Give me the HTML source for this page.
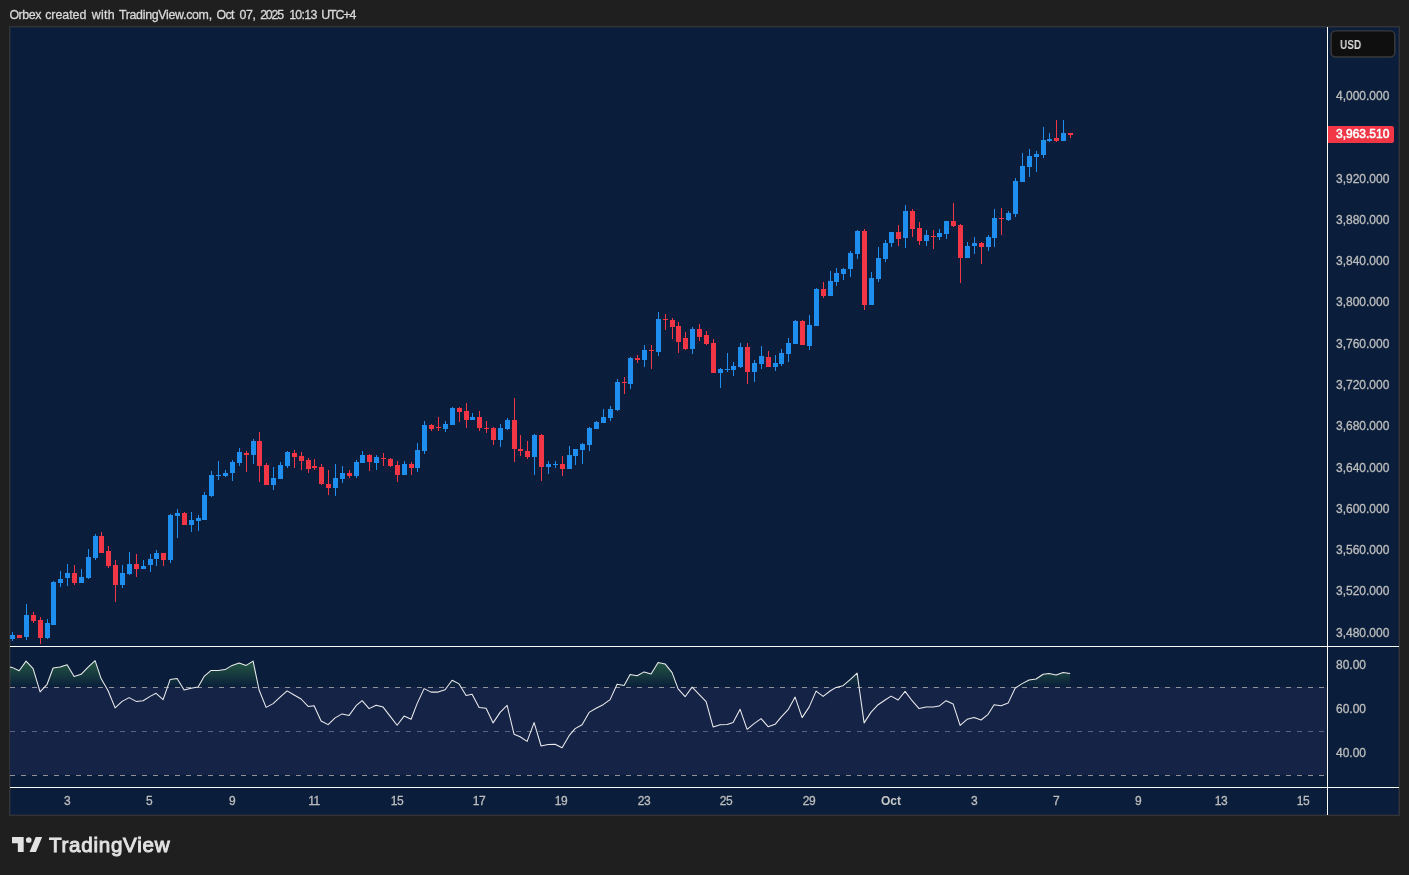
<!DOCTYPE html>
<html><head><meta charset="utf-8"><title>Chart</title>
<style>
html,body{margin:0;padding:0}
body{width:1409px;height:875px;background:#1f1f1f;position:relative;overflow:hidden;font-family:"Liberation Sans",sans-serif}
#hdr{position:absolute;left:0;top:7px;width:400px;height:16px;line-height:16px;font-size:12.4px;color:#d8d8d8;-webkit-text-stroke:0.3px #d8d8d8;white-space:nowrap}
#hdr span{position:absolute;top:0}
#box{position:absolute;left:9px;top:26px;width:1389px;height:788px;border:1px solid #323437;background:#0a1e3b;box-shadow:inset 0 0 0 1px #1c2638}
svg{position:absolute;left:0;top:0}
#hdr,.pl,.tl,#usd,#cur,#logo{will-change:transform}
.pl{position:absolute;left:1336px;height:16px;line-height:16px;font-size:12px;color:#bdbdbd;-webkit-text-stroke:0.3px #bdbdbd;white-space:nowrap}
.tl{position:absolute;top:792.6px;width:60px;text-align:center;height:16px;line-height:16px;font-size:12px;letter-spacing:-0.5px;color:#bdbdbd;-webkit-text-stroke:0.3px #bdbdbd}
.tl.b{font-weight:bold;color:#c8c8c8;-webkit-text-stroke:0;letter-spacing:0}
#usd{position:absolute;left:1339.6px;top:36.5px;height:16px;line-height:16px;color:#dcdcdc;font-size:12.8px;font-weight:bold;transform:scaleX(0.785);transform-origin:0 0;white-space:nowrap}
#cur{position:absolute;left:1328px;top:126px;width:66px;height:17px;background:#f23645;border-radius:0 2px 2px 0;color:#fff;font-size:12px;-webkit-text-stroke:0.55px #fff;line-height:17px}
#cur span{margin-left:8px}
#logo{position:absolute;left:48.6px;top:833px;font-size:20.6px;font-weight:normal;color:#e2e2e2;-webkit-text-stroke:0.95px #e2e2e2;line-height:24px;white-space:nowrap;letter-spacing:0.72px}
</style></head><body>
<div id="hdr"><span style="left:9.4px;letter-spacing:-0.45px">Orbex</span><span style="left:45.15px;letter-spacing:-0.025px">created</span><span style="left:91.65px;letter-spacing:0.317px">with</span><span style="left:118.9px;letter-spacing:-0.307px">TradingView.com,</span><span style="left:216.4px;letter-spacing:-0.575px">Oct</span><span style="left:239.4px;letter-spacing:-0.375px">07,</span><span style="left:260.15px;letter-spacing:-1.167px">2025</span><span style="left:289.2px;letter-spacing:-0.725px">10:13</span><span style="left:321.15px;letter-spacing:-1.1px">UTC+4</span></div>
<div id="box"></div>
<svg width="1409" height="875" viewBox="0 0 1409 875">
<defs>
<linearGradient id="gg" gradientUnits="userSpaceOnUse" x1="0" y1="621.5" x2="0" y2="687.5"><stop offset="0" stop-color="#4caf50" stop-opacity="1"/><stop offset="1" stop-color="#4caf50" stop-opacity="0"/></linearGradient>
<clipPath id="ob"><rect x="10" y="647" width="1317" height="40.5"/></clipPath>
</defs>
<g shape-rendering="crispEdges">
<rect x="10" y="687" width="1317" height="88" fill="#152347"/>
<path fill="#1e8fee" d="M10 635h5v4h-5zM12 632h1v3h-1zM12 639h1v2h-1zM24 615h5v22h-5zM26 604h1v11h-1zM26 637h1v3h-1zM45 623h5v15h-5zM47 619h1v4h-1zM47 638h1v1h-1zM51 582h5v43h-5zM53 581h1v1h-1zM58 579h5v4h-5zM60 571h1v8h-1zM60 583h1v4h-1zM65 573h5v5h-5zM67 564h1v9h-1zM67 578h1v8h-1zM79 577h5v6h-5zM81 569h1v8h-1zM86 557h5v21h-5zM88 549h1v8h-1zM88 578h1v1h-1zM93 536h5v22h-5zM95 534h1v2h-1zM95 558h1v2h-1zM120 573h5v12h-5zM122 565h1v8h-1zM122 585h1v3h-1zM127 564h5v10h-5zM129 552h1v12h-1zM129 574h1v1h-1zM141 566h5v3h-5zM143 560h1v6h-1zM148 559h5v6h-5zM150 554h1v5h-1zM150 565h1v7h-1zM154 553h5v6h-5zM156 550h1v3h-1zM156 559h1v7h-1zM168 515h5v45h-5zM170 514h1v1h-1zM170 560h1v3h-1zM175 513h5v3h-5zM177 509h1v4h-1zM177 516h1v22h-1zM189 520h5v5h-5zM191 512h1v8h-1zM191 525h1v7h-1zM196 518h5v3h-5zM198 515h1v3h-1zM198 521h1v10h-1zM202 495h5v25h-5zM204 492h1v3h-1zM209 475h5v21h-5zM211 471h1v4h-1zM211 496h1v1h-1zM216 475h5v1h-5zM218 461h1v14h-1zM218 476h1v4h-1zM223 473h5v3h-5zM225 470h1v3h-1zM225 476h1v1h-1zM230 462h5v11h-5zM232 460h1v2h-1zM232 473h1v8h-1zM237 452h5v11h-5zM239 448h1v4h-1zM239 463h1v3h-1zM251 441h5v14h-5zM253 439h1v2h-1zM253 455h1v9h-1zM271 478h5v7h-5zM273 467h1v11h-1zM273 485h1v5h-1zM278 465h5v14h-5zM280 462h1v3h-1zM285 452h5v14h-5zM287 451h1v1h-1zM287 466h1v2h-1zM333 478h5v10h-5zM335 464h1v14h-1zM335 488h1v8h-1zM340 473h5v6h-5zM342 466h1v7h-1zM342 479h1v4h-1zM354 462h5v14h-5zM356 460h1v2h-1zM356 476h1v2h-1zM360 455h5v8h-5zM362 451h1v4h-1zM374 457h5v6h-5zM376 455h1v2h-1zM376 463h1v7h-1zM402 464h5v11h-5zM404 461h1v3h-1zM415 450h5v18h-5zM417 443h1v7h-1zM417 468h1v4h-1zM422 425h5v26h-5zM424 421h1v4h-1zM424 451h1v3h-1zM443 424h5v5h-5zM445 421h1v3h-1zM445 429h1v3h-1zM450 408h5v17h-5zM452 407h1v1h-1zM470 417h5v3h-5zM472 413h1v4h-1zM498 428h5v12h-5zM500 424h1v4h-1zM500 440h1v7h-1zM505 420h5v9h-5zM507 418h1v2h-1zM507 429h1v1h-1zM532 435h5v22h-5zM534 434h1v1h-1zM534 457h1v18h-1zM546 464h5v3h-5zM548 461h1v3h-1zM548 467h1v7h-1zM553 464h5v1h-5zM555 461h1v3h-1zM555 465h1v3h-1zM567 455h5v14h-5zM569 446h1v9h-1zM573 449h5v7h-5zM575 456h1v9h-1zM580 444h5v6h-5zM582 443h1v1h-1zM582 450h1v14h-1zM587 428h5v17h-5zM589 427h1v1h-1zM589 445h1v6h-1zM594 422h5v7h-5zM596 421h1v1h-1zM601 417h5v6h-5zM603 409h1v8h-1zM608 409h5v9h-5zM610 406h1v3h-1zM610 418h1v3h-1zM615 382h5v28h-5zM617 379h1v3h-1zM617 410h1v1h-1zM628 358h5v26h-5zM630 357h1v1h-1zM630 384h1v5h-1zM642 350h5v10h-5zM644 345h1v5h-1zM644 360h1v7h-1zM656 319h5v33h-5zM658 312h1v7h-1zM658 352h1v4h-1zM690 329h5v20h-5zM692 327h1v2h-1zM692 349h1v5h-1zM718 369h5v4h-5zM720 368h1v1h-1zM720 373h1v15h-1zM725 369h5v1h-5zM727 353h1v16h-1zM727 370h1v2h-1zM731 366h5v4h-5zM733 362h1v4h-1zM733 370h1v6h-1zM738 347h5v20h-5zM740 343h1v4h-1zM740 367h1v1h-1zM752 363h5v9h-5zM754 360h1v3h-1zM754 372h1v10h-1zM759 356h5v8h-5zM761 346h1v10h-1zM761 364h1v5h-1zM773 363h5v4h-5zM775 355h1v8h-1zM775 367h1v4h-1zM779 353h5v11h-5zM781 349h1v4h-1zM781 364h1v2h-1zM786 343h5v11h-5zM788 338h1v5h-1zM788 354h1v8h-1zM793 321h5v23h-5zM795 320h1v1h-1zM807 325h5v21h-5zM809 315h1v10h-1zM809 346h1v4h-1zM814 289h5v37h-5zM816 288h1v1h-1zM828 281h5v15h-5zM830 271h1v10h-1zM834 273h5v9h-5zM836 268h1v5h-1zM836 282h1v4h-1zM841 269h5v5h-5zM843 268h1v1h-1zM843 274h1v6h-1zM848 253h5v16h-5zM850 251h1v2h-1zM850 269h1v8h-1zM855 231h5v23h-5zM857 230h1v1h-1zM857 254h1v5h-1zM869 278h5v27h-5zM871 272h1v6h-1zM876 258h5v21h-5zM878 247h1v11h-1zM878 279h1v3h-1zM883 243h5v16h-5zM885 240h1v3h-1zM885 259h1v3h-1zM889 232h5v11h-5zM891 243h1v4h-1zM903 211h5v27h-5zM905 205h1v6h-1zM905 238h1v10h-1zM924 235h5v6h-5zM926 230h1v5h-1zM926 241h1v5h-1zM937 233h5v4h-5zM939 229h1v4h-1zM939 237h1v3h-1zM944 221h5v13h-5zM946 234h1v5h-1zM965 246h5v12h-5zM967 242h1v4h-1zM972 243h5v3h-5zM974 237h1v6h-1zM974 246h1v8h-1zM986 237h5v10h-5zM988 235h1v2h-1zM988 247h1v4h-1zM992 218h5v20h-5zM994 209h1v9h-1zM994 238h1v9h-1zM1006 213h5v7h-5zM1008 211h1v2h-1zM1008 220h1v1h-1zM1013 181h5v33h-5zM1015 178h1v3h-1zM1015 214h1v3h-1zM1020 166h5v16h-5zM1022 153h1v13h-1zM1027 156h5v11h-5zM1029 149h1v7h-1zM1029 167h1v10h-1zM1034 154h5v3h-5zM1036 151h1v3h-1zM1036 157h1v15h-1zM1041 140h5v15h-5zM1043 127h1v13h-1zM1043 155h1v3h-1zM1047 139h5v2h-5zM1049 133h1v6h-1zM1049 141h1v1h-1zM1061 133h5v8h-5zM1063 120h1v13h-1z"/><path fill="#f23645" d="M17 635h5v3h-5zM31 615h5v6h-5zM33 612h1v3h-1zM33 621h1v2h-1zM38 620h5v18h-5zM40 617h1v3h-1zM40 638h1v6h-1zM72 573h5v10h-5zM74 565h1v8h-1zM74 583h1v2h-1zM99 536h5v17h-5zM101 532h1v4h-1zM106 551h5v15h-5zM108 546h1v5h-1zM108 566h1v2h-1zM113 565h5v20h-5zM115 560h1v5h-1zM115 585h1v17h-1zM134 564h5v5h-5zM136 554h1v10h-1zM136 569h1v8h-1zM161 553h5v7h-5zM163 560h1v6h-1zM182 513h5v12h-5zM184 512h1v1h-1zM244 453h5v2h-5zM246 451h1v2h-1zM246 455h1v17h-1zM257 441h5v25h-5zM259 432h1v9h-1zM259 466h1v16h-1zM264 465h5v20h-5zM266 463h1v2h-1zM292 453h5v4h-5zM294 450h1v3h-1zM294 457h1v11h-1zM299 456h5v5h-5zM301 452h1v4h-1zM301 461h1v9h-1zM306 460h5v9h-5zM308 458h1v2h-1zM308 469h1v4h-1zM312 466h5v2h-5zM314 459h1v7h-1zM314 468h1v2h-1zM319 467h5v17h-5zM321 464h1v3h-1zM321 484h1v1h-1zM326 484h5v4h-5zM328 470h1v14h-1zM328 488h1v7h-1zM347 473h5v3h-5zM349 470h1v3h-1zM349 476h1v2h-1zM367 455h5v7h-5zM369 454h1v1h-1zM369 462h1v9h-1zM381 458h5v1h-5zM383 453h1v5h-1zM383 459h1v7h-1zM388 459h5v7h-5zM390 458h1v1h-1zM390 466h1v1h-1zM395 465h5v10h-5zM397 461h1v4h-1zM397 475h1v7h-1zM409 464h5v4h-5zM411 462h1v2h-1zM411 468h1v7h-1zM429 425h5v4h-5zM431 424h1v1h-1zM431 429h1v2h-1zM436 427h5v1h-5zM438 417h1v10h-1zM438 428h1v3h-1zM457 408h5v4h-5zM459 407h1v1h-1zM459 412h1v10h-1zM464 411h5v9h-5zM466 403h1v8h-1zM466 420h1v8h-1zM477 417h5v11h-5zM479 411h1v6h-1zM479 428h1v3h-1zM484 428h5v1h-5zM486 421h1v7h-1zM486 429h1v4h-1zM491 428h5v12h-5zM493 427h1v1h-1zM493 440h1v5h-1zM512 420h5v29h-5zM514 398h1v22h-1zM514 449h1v13h-1zM518 449h5v2h-5zM520 435h1v14h-1zM520 451h1v5h-1zM525 451h5v6h-5zM527 441h1v10h-1zM527 457h1v2h-1zM539 435h5v32h-5zM541 434h1v1h-1zM541 467h1v14h-1zM560 464h5v5h-5zM562 456h1v8h-1zM562 469h1v7h-1zM622 382h5v1h-5zM624 377h1v5h-1zM624 383h1v11h-1zM635 358h5v2h-5zM637 355h1v3h-1zM637 360h1v3h-1zM649 350h5v1h-5zM651 345h1v5h-1zM651 351h1v18h-1zM663 319h5v1h-5zM665 314h1v5h-1zM665 320h1v10h-1zM670 320h5v7h-5zM672 318h1v2h-1zM672 327h1v12h-1zM676 326h5v16h-5zM678 322h1v4h-1zM678 342h1v11h-1zM683 338h5v11h-5zM685 332h1v6h-1zM685 349h1v1h-1zM697 329h5v8h-5zM699 324h1v5h-1zM699 337h1v4h-1zM704 335h5v9h-5zM706 331h1v4h-1zM706 344h1v1h-1zM711 343h5v30h-5zM713 339h1v4h-1zM745 347h5v25h-5zM747 343h1v4h-1zM747 372h1v12h-1zM766 357h5v10h-5zM768 351h1v6h-1zM800 321h5v24h-5zM802 320h1v1h-1zM821 289h5v7h-5zM823 282h1v7h-1zM823 296h1v2h-1zM862 231h5v74h-5zM864 229h1v2h-1zM864 305h1v5h-1zM896 232h5v7h-5zM898 225h1v7h-1zM898 239h1v7h-1zM910 211h5v18h-5zM912 209h1v2h-1zM912 229h1v8h-1zM917 228h5v13h-5zM919 222h1v6h-1zM919 241h1v4h-1zM931 236h5v1h-5zM933 230h1v6h-1zM933 237h1v12h-1zM951 221h5v5h-5zM953 203h1v18h-1zM953 226h1v1h-1zM958 225h5v33h-5zM960 224h1v1h-1zM960 258h1v25h-1zM979 243h5v4h-5zM981 242h1v1h-1zM981 247h1v17h-1zM999 218h5v1h-5zM1001 208h1v10h-1zM1001 219h1v16h-1zM1054 138h5v3h-5zM1056 120h1v18h-1zM1056 141h1v1h-1zM1068 133h5v2h-5zM1070 135h1v3h-1z"/>
<rect x="10" y="646" width="1389" height="1" fill="#fff"/>
<rect x="10" y="787" width="1389" height="1" fill="#fff"/>
<rect x="1327" y="27" width="1" height="788" fill="#fff"/>
<path stroke="#909299" stroke-width="1" stroke-dasharray="5 6" d="M10 687.5H1327M10 775.5H1327" fill="none"/>
<path stroke="#5b6380" stroke-width="1" stroke-dasharray="5 6" d="M10 731.5H1327" fill="none"/>
</g>
<rect x="1331.1" y="30.9" width="63.7" height="26.1" rx="4.5" fill="#0f0f0f" stroke="#3b3b3d" stroke-width="1.4"/>
<path d="M10.0 666.9 L12.1 667.4 L19.1 670.7 L26.1 661.1 L33.1 668.6 L40.1 691.9 L47.1 684.3 L53.1 668.0 L60.1 667.1 L67.1 664.7 L74.1 676.4 L81.1 674.3 L88.1 667.1 L95.1 660.7 L101.1 678.6 L108.1 690.7 L115.1 707.9 L122.1 701.4 L129.1 697.6 L136.1 701.4 L143.1 700.7 L150.1 696.4 L156.1 693.3 L163.1 699.6 L170.1 679.6 L177.1 678.6 L184.1 690.0 L191.1 688.3 L198.1 687.1 L204.1 676.4 L211.1 670.4 L218.1 670.4 L225.1 669.6 L232.1 665.4 L239.1 663.1 L246.1 665.4 L253.1 661.1 L259.1 690.0 L266.1 707.4 L273.1 703.6 L280.1 697.1 L287.1 690.9 L294.1 695.0 L301.1 699.0 L308.1 706.4 L314.1 705.7 L321.1 721.0 L328.1 724.6 L335.1 717.9 L342.1 713.9 L349.1 715.4 L356.1 705.7 L362.1 700.7 L369.1 708.6 L376.1 705.3 L383.1 707.1 L390.1 716.1 L397.1 725.3 L404.1 716.1 L411.1 719.3 L417.1 703.6 L424.1 688.6 L431.1 692.1 L438.1 692.1 L445.1 689.7 L452.1 680.3 L459.1 683.9 L466.1 695.4 L472.1 694.3 L479.1 707.6 L486.1 708.3 L493.1 722.9 L500.1 712.4 L507.1 705.4 L514.1 734.3 L520.1 736.7 L527.1 741.4 L534.1 722.6 L541.1 746.0 L548.1 744.6 L555.1 744.3 L562.1 747.7 L569.1 735.7 L575.1 728.6 L582.1 724.7 L589.1 712.4 L596.1 708.3 L603.1 704.7 L610.1 699.6 L617.1 684.3 L624.1 685.4 L630.1 674.6 L637.1 675.7 L644.1 671.9 L651.1 674.0 L658.1 662.4 L665.1 663.9 L672.1 672.6 L678.1 688.9 L685.1 696.7 L692.1 687.1 L699.1 694.3 L706.1 701.7 L713.1 726.9 L720.1 724.7 L727.1 724.6 L733.1 722.6 L740.1 709.3 L747.1 729.3 L754.1 723.6 L761.1 718.6 L768.1 726.7 L775.1 724.3 L781.1 717.1 L788.1 709.7 L795.1 697.1 L802.1 717.6 L809.1 707.1 L816.1 691.1 L823.1 696.4 L830.1 691.0 L836.1 687.4 L843.1 685.7 L850.1 679.7 L857.1 673.1 L864.1 722.9 L871.1 712.1 L878.1 704.7 L885.1 700.0 L891.1 696.1 L898.1 700.0 L905.1 691.4 L912.1 700.7 L919.1 708.6 L926.1 706.9 L933.1 707.1 L939.1 706.1 L946.1 700.7 L953.1 703.9 L960.1 725.4 L967.1 719.3 L974.1 717.4 L981.1 720.0 L988.1 714.3 L994.1 704.7 L1001.1 705.7 L1008.1 703.1 L1015.1 688.3 L1022.1 683.6 L1029.1 680.0 L1036.1 679.0 L1043.1 674.3 L1049.1 673.6 L1056.1 675.0 L1063.1 672.4 L1070.1 673.6 L1070.1 687.5 L10 687.5 Z" fill="url(#gg)" clip-path="url(#ob)"/>
<path d="M10.0 666.9 L12.1 667.4 L19.1 670.7 L26.1 661.1 L33.1 668.6 L40.1 691.9 L47.1 684.3 L53.1 668.0 L60.1 667.1 L67.1 664.7 L74.1 676.4 L81.1 674.3 L88.1 667.1 L95.1 660.7 L101.1 678.6 L108.1 690.7 L115.1 707.9 L122.1 701.4 L129.1 697.6 L136.1 701.4 L143.1 700.7 L150.1 696.4 L156.1 693.3 L163.1 699.6 L170.1 679.6 L177.1 678.6 L184.1 690.0 L191.1 688.3 L198.1 687.1 L204.1 676.4 L211.1 670.4 L218.1 670.4 L225.1 669.6 L232.1 665.4 L239.1 663.1 L246.1 665.4 L253.1 661.1 L259.1 690.0 L266.1 707.4 L273.1 703.6 L280.1 697.1 L287.1 690.9 L294.1 695.0 L301.1 699.0 L308.1 706.4 L314.1 705.7 L321.1 721.0 L328.1 724.6 L335.1 717.9 L342.1 713.9 L349.1 715.4 L356.1 705.7 L362.1 700.7 L369.1 708.6 L376.1 705.3 L383.1 707.1 L390.1 716.1 L397.1 725.3 L404.1 716.1 L411.1 719.3 L417.1 703.6 L424.1 688.6 L431.1 692.1 L438.1 692.1 L445.1 689.7 L452.1 680.3 L459.1 683.9 L466.1 695.4 L472.1 694.3 L479.1 707.6 L486.1 708.3 L493.1 722.9 L500.1 712.4 L507.1 705.4 L514.1 734.3 L520.1 736.7 L527.1 741.4 L534.1 722.6 L541.1 746.0 L548.1 744.6 L555.1 744.3 L562.1 747.7 L569.1 735.7 L575.1 728.6 L582.1 724.7 L589.1 712.4 L596.1 708.3 L603.1 704.7 L610.1 699.6 L617.1 684.3 L624.1 685.4 L630.1 674.6 L637.1 675.7 L644.1 671.9 L651.1 674.0 L658.1 662.4 L665.1 663.9 L672.1 672.6 L678.1 688.9 L685.1 696.7 L692.1 687.1 L699.1 694.3 L706.1 701.7 L713.1 726.9 L720.1 724.7 L727.1 724.6 L733.1 722.6 L740.1 709.3 L747.1 729.3 L754.1 723.6 L761.1 718.6 L768.1 726.7 L775.1 724.3 L781.1 717.1 L788.1 709.7 L795.1 697.1 L802.1 717.6 L809.1 707.1 L816.1 691.1 L823.1 696.4 L830.1 691.0 L836.1 687.4 L843.1 685.7 L850.1 679.7 L857.1 673.1 L864.1 722.9 L871.1 712.1 L878.1 704.7 L885.1 700.0 L891.1 696.1 L898.1 700.0 L905.1 691.4 L912.1 700.7 L919.1 708.6 L926.1 706.9 L933.1 707.1 L939.1 706.1 L946.1 700.7 L953.1 703.9 L960.1 725.4 L967.1 719.3 L974.1 717.4 L981.1 720.0 L988.1 714.3 L994.1 704.7 L1001.1 705.7 L1008.1 703.1 L1015.1 688.3 L1022.1 683.6 L1029.1 680.0 L1036.1 679.0 L1043.1 674.3 L1049.1 673.6 L1056.1 675.0 L1063.1 672.4 L1070.1 673.6" fill="none" stroke="#ececec" stroke-width="1.05" stroke-linejoin="round"/>
<g fill="#e2e2e2" transform="translate(12,833.67) scale(0.8333)"><path d="M14 22H7V11.4H0V4h14v18zM28.7 22h-7.7l7.5-18h7.7z"/><circle cx="20.1" cy="7.6" r="3.4"/></g>
</svg>
<div class="pl" style="top:88px">4,000.000</div><div class="pl" style="top:171px">3,920.000</div><div class="pl" style="top:212px">3,880.000</div><div class="pl" style="top:253px">3,840.000</div><div class="pl" style="top:294px">3,800.000</div><div class="pl" style="top:336px">3,760.000</div><div class="pl" style="top:377px">3,720.000</div><div class="pl" style="top:418px">3,680.000</div><div class="pl" style="top:460px">3,640.000</div><div class="pl" style="top:501px">3,600.000</div><div class="pl" style="top:542px">3,560.000</div><div class="pl" style="top:583px">3,520.000</div><div class="pl" style="top:625px">3,480.000</div><div class="pl" style="top:656.6px">80.00</div><div class="pl" style="top:700.8px">60.00</div><div class="pl" style="top:744.9px">40.00</div><div class="tl" style="left:36.8px">3</div><div class="tl" style="left:119.2px">5</div><div class="tl" style="left:201.6px">9</div><div class="tl" style="left:284.0px">11</div><div class="tl" style="left:366.5px">15</div><div class="tl" style="left:448.9px">17</div><div class="tl" style="left:531.3px">19</div><div class="tl" style="left:613.8px">23</div><div class="tl" style="left:696.2px">25</div><div class="tl" style="left:778.6px">29</div><div class="tl b" style="left:861.1px">Oct</div><div class="tl" style="left:943.5px">3</div><div class="tl" style="left:1025.9px">7</div><div class="tl" style="left:1108.3px">9</div><div class="tl" style="left:1190.8px">13</div><div class="tl" style="left:1273.2px">15</div>
<div id="usd">USD</div>
<div id="cur"><span>3,963.510</span></div>
<div id="logo">TradingView</div>
</body></html>
